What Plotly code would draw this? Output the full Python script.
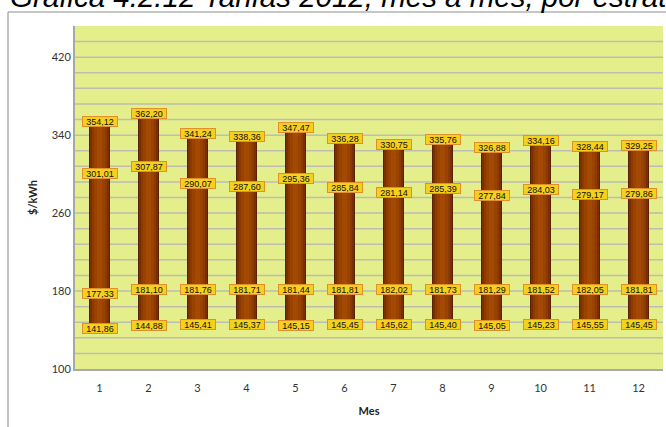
import plotly.graph_objects as go

# Monthly tariffs 2012 ($/kWh) per stratum
meses = [1, 2, 3, 4, 5, 6, 7, 8, 9, 10, 11, 12]
estrato_1 = [141.86, 144.88, 145.41, 145.37, 145.15, 145.45, 145.62, 145.40, 145.05, 145.23, 145.55, 145.45]
estrato_2 = [177.33, 181.10, 181.76, 181.71, 181.44, 181.81, 182.02, 181.73, 181.29, 181.52, 182.05, 181.81]
estrato_3 = [301.01, 307.87, 290.07, 287.60, 295.36, 285.84, 281.14, 285.39, 277.84, 284.03, 279.17, 279.86]
estrato_4 = [354.12, 362.20, 341.24, 338.36, 347.47, 336.28, 330.75, 335.76, 326.88, 334.16, 328.44, 329.25]

W, H = 666, 427
L, R, T, B = 75, 3, 26, 58
pw, ph = W - L - R, H - T - B

fig = go.Figure()

# floating cylinder from the lowest to the highest stratum, shaded with overlaid bars
heights = [a - b for a, b in zip(estrato_4, estrato_1)]
layers = [
    (0.42, "#5a2200"),
    (0.38, "#783000"),
    (0.32, "#8c3a00"),
    (0.22, "#9a4300"),
    (0.10, "#a24a04"),
]
for w, c in layers:
    fig.add_trace(go.Bar(
        x=meses, y=heights, base=estrato_1, width=w,
        marker=dict(color=c, line=dict(width=0)),
        hoverinfo="skip", showlegend=False,
    ))

# value tags
def fmt(v):
    return f"{v:.2f}".replace(".", ",")

for serie in (estrato_1, estrato_2, estrato_3, estrato_4):
    for m, v in zip(meses, serie):
        fig.add_annotation(
            x=m, y=v, text=fmt(v), showarrow=False,
            font=dict(family="Liberation Sans, Arial", size=9, color="#111111"),
            bgcolor="#f5d01c", bordercolor="#e0902a", borderwidth=1,
            borderpad=0, width=34, height=9,
        )

# outer chart frame
fig.add_shape(type="rect", xref="paper", yref="paper",
              x0=(8 - L) / pw, x1=(W + 20 - L) / pw,
              y0=-(H + 20 - T - ph) / ph, y1=(H - 12 - B) / ph,
              line=dict(color="#8c8c8c", width=1), fillcolor="rgba(0,0,0,0)", layer="below")

# title
fig.add_annotation(
    xref="paper", yref="paper", x=(8 - L) / pw, y=(H - 15 - B) / ph,
    xanchor="left", yanchor="bottom", showarrow=False,
    text="Gráfica 4.2.12 Tarifas 2012, mes a mes, por estrato",
    font=dict(family="Liberation Sans, Arial", size=29.5, color="#000000", style="italic"),
)

fig.update_layout(
    width=W, height=H,
    margin=dict(l=L, r=R, t=T, b=B),
    paper_bgcolor="#ffffff",
    plot_bgcolor="#e4ef8c",
    barmode="overlay",
    bargap=0,
    xaxis=dict(
        tickmode="array", tickvals=meses, ticktext=[str(m) for m in meses],
        range=[0.5, 12.5], showgrid=False, zeroline=False,
        showline=True, linecolor="#a8a8a8", linewidth=2,
        ticks="", ticklabelstandoff=8,
        tickfont=dict(family="Lato, Liberation Sans", size=11, color="#333333"),
        title=dict(text="<b>Mes</b>", font=dict(family="Lato, Liberation Sans", size=11, color="#222222"), standoff=14),
    ),
    yaxis=dict(
        range=[100, 452], tickmode="array", tickvals=[100, 180, 260, 340, 420],
        showgrid=False, zeroline=False,
        showline=True, linecolor="#a8a8a8", linewidth=2,
        ticks="", tickfont=dict(family="Lato, Liberation Sans", size=11, color="#333333"),
        title=dict(text="<b>$/kWh</b>", font=dict(family="Lato, Liberation Sans", size=11, color="#222222"), standoff=12),
    ),
)

# horizontal grid every 16 units
for g in range(116, 452, 16):
    fig.add_shape(type="line", xref="paper", yref="y", x0=0, x1=1, y0=g, y1=g,
                  line=dict(color="#bdbdb0", width=1.5), layer="below")

fig.write_html("out.html")
